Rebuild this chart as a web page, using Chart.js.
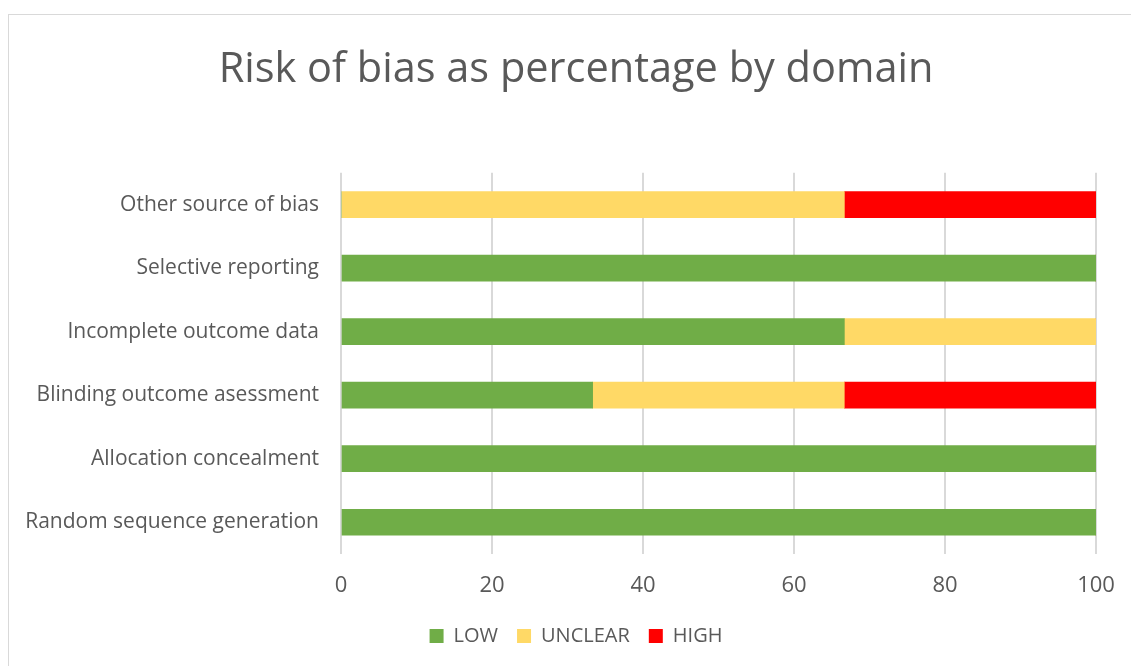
<!DOCTYPE html>
<html>
<head>
<meta charset="utf-8">
<script src="https://cdn.jsdelivr.net/npm/chart.js@4"></script>
<style>
html,body{margin:0;padding:0;background:#fff;overflow:hidden;width:1131px;height:666px;}
#wrap{position:absolute;left:8px;top:14px;width:1136px;height:660px;border:1px solid #d9d9d9;box-sizing:border-box;background:#fff;}
canvas{display:block;}
</style>
</head>
<body>
<div id="wrap"><canvas id="c" width="1134" height="658"></canvas></div>
<script>
const categories = ["Other source of bias","Selective reporting","Incomplete outcome data","Blinding outcome asessment","Allocation concealment","Random sequence generation"];
const lowValues = [0, 100, 66.67, 33.33, 100, 100];
const unclearValues = [66.67, 0, 33.33, 33.33, 0, 0];
const highValues = [33.33, 0, 0, 33.33, 0, 0];
const xTicks = [0, 20, 40, 60, 80, 100];

const FONT = "'Open Sans', 'Liberation Sans', sans-serif";
const TXT = "#595959";

new Chart(document.getElementById('c'), {
  type: 'bar',
  data: {
    labels: categories,
    datasets: [
      {label: 'LOW', data: lowValues, backgroundColor: '#70ad47'},
      {label: 'UNCLEAR', data: unclearValues, backgroundColor: '#ffd966'},
      {label: 'HIGH', data: highValues, backgroundColor: '#ff0000'}
    ]
  },
  options: {
    indexAxis: 'y',
    responsive: false,
    animation: false,
    layout: {padding: {left: 0, right: 0, top: 0, bottom: 17}},
    datasets: {bar: {barThickness: 26}},
    plugins: {
      title: {
        display: true,
        text: 'Risk of bias as percentage by domain',
        color: TXT,
        font: {family: FONT, size: 41.5, weight: 'normal'},
        padding: {top: 30, bottom: 78}
      },
      legend: {
        position: 'bottom',
        labels: {
          color: TXT,
          font: {family: FONT, size: 20},
          boxWidth: 14, boxHeight: 14,
          padding: 19
        }
      },
      tooltip: {enabled: false}
    },
    scales: {
      x: {
        stacked: true,
        min: 0, max: 100,
        afterBuildTicks: (s) => { s.ticks = xTicks.map(v => ({value: v})); },
        afterFit: (s) => { s.height = 53; },
        grid: {color: '#d9d9d9', lineWidth: 2, drawTicks: false},
        border: {display: false},
        ticks: {color: TXT, font: {family: FONT, size: 22}, padding: 19}
      },
      y: {
        stacked: true,
        grid: {display: false, drawTicks: false},
        border: {display: false},
        afterFit: (s) => { s.width = 332; },
        ticks: {color: TXT, font: {family: FONT, size: 21}, padding: 22}
      },
      yRight: {
        type: 'category',
        position: 'right',
        grid: {display: false, drawTicks: false},
        border: {display: false},
        ticks: {display: false},
        afterFit: (s) => { s.width = 47; }
      }
    }
  }
});
</script>
</body>
</html>
